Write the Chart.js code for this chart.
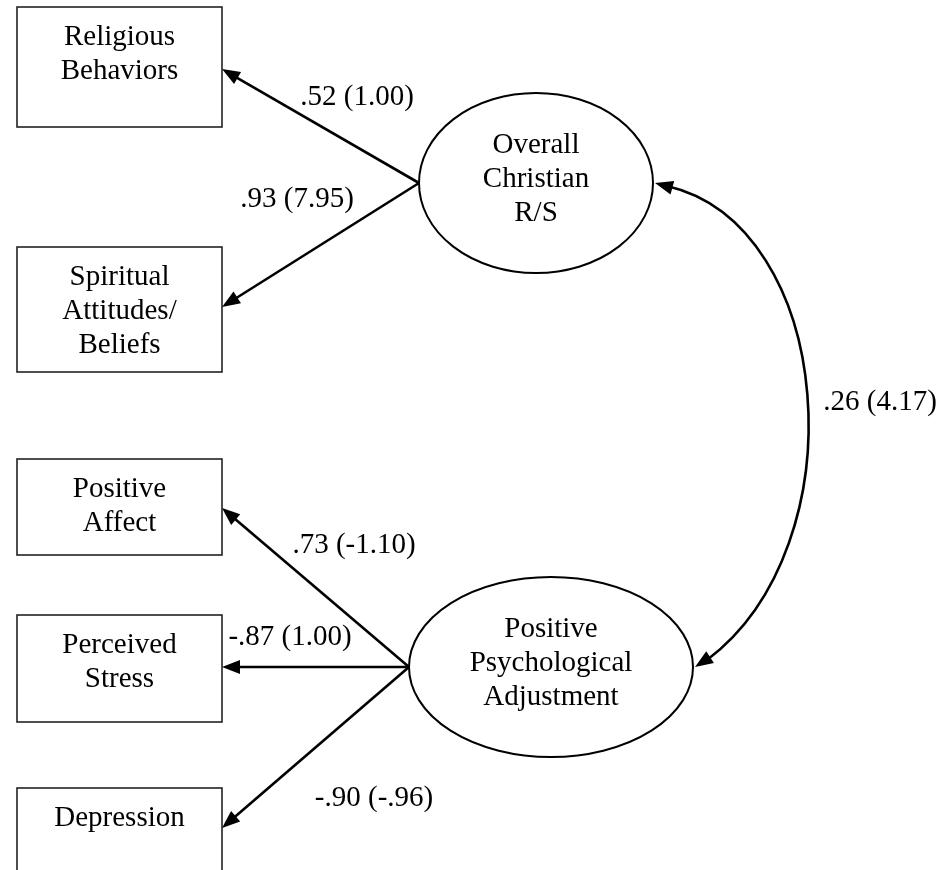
<!DOCTYPE html>
<html lang="en">
<head>
<meta charset="UTF-8">
<title>Path model</title>
<script src="https://cdn.jsdelivr.net/npm/chart.js"></script>
<style>
  body { margin: 0; background: #fff; }
  canvas { display: block; }
</style>
</head>
<body>
<canvas id="myChart" width="942" height="870"></canvas>
<script>
  // observed indicators, top to bottom, and the factor each one loads on
  const indicators = [['Religious', 'Behaviors'], ['Spiritual', 'Attitudes/', 'Beliefs'], ['Positive', 'Affect'], ['Perceived', 'Stress'], ['Depression']];
  const indicatorFactor = [0, 0, 1, 1, 1];
  const factors = [['Overall', 'Christian', 'R/S'], ['Positive', 'Psychological', 'Adjustment']];
  // standardized loading and (unstandardized estimate) for each path
  const stdLoadings = [0.52, 0.93, 0.73, -0.87, -0.90];
  const rawLoadings = [1.00, 7.95, -1.10, 1.00, -0.96];
  const factorCorr = 0.26;
  const factorCov = 4.17;

  // layout in picture pixels
  const boxX = 17, boxW = 205;
  const boxTop = [7, 247, 459, 615, 788];
  const boxH = [120, 125, 96, 107, 112];
  const boxAnchorY = [69, 307, 508, 667, 828];
  const ellipses = [{ cx: 536, cy: 183, rx: 117, ry: 90 }, { cx: 551, cy: 667, rx: 142, ry: 90 }];
  const labelPos = [[357, 97], [297, 199], [354, 545], [290, 637], [374, 798]];
  const corrLabelPos = [880, 402];
  const headLen = 18, headHalf = 7;
  const FONT = '29px "Liberation Serif", "Times New Roman", serif';

  const fmt = v => v.toFixed(2).replace(/^(-?)0\./, '$1.');

  // one straight line per loading, from the factor's left edge to the arrowhead base
  const pathSets = indicators.map((_, i) => {
    const e = ellipses[indicatorFactor[i]];
    const x0 = e.cx - e.rx, y0 = e.cy;
    const x1 = boxX + boxW, y1 = boxAnchorY[i];
    const len = Math.hypot(x1 - x0, y1 - y0);
    const ux = (x1 - x0) / len, uy = (y1 - y0) / len;
    return {
      data: [{ x: x0, y: y0 }, { x: x1 - ux * (headLen - 2), y: y1 - uy * (headLen - 2) }],
      showLine: true,
      borderColor: '#000',
      borderWidth: 2.6,
      pointRadius: 0
    };
  });

  function arrowHead(ctx, tx, ty, fx, fy) {
    const a = Math.atan2(ty - fy, tx - fx);
    ctx.beginPath();
    ctx.moveTo(tx, ty);
    ctx.lineTo(tx - headLen * Math.cos(a) + headHalf * Math.sin(a), ty - headLen * Math.sin(a) - headHalf * Math.cos(a));
    ctx.lineTo(tx - headLen * Math.cos(a) - headHalf * Math.sin(a), ty - headLen * Math.sin(a) + headHalf * Math.cos(a));
    ctx.closePath();
    ctx.fill();
  }

  function textLines(ctx, lines, x, y0) {
    lines.forEach((t, k) => ctx.fillText(t, x, y0 + k * 34));
  }

  const diagram = {
    id: 'diagram',
    afterDatasetsDraw(chart) {
      const ctx = chart.ctx;
      const X = v => chart.scales.x.getPixelForValue(v);
      const Y = v => chart.scales.y.getPixelForValue(v);
      ctx.save();
      ctx.fillStyle = '#000';
      ctx.font = FONT;
      ctx.textAlign = 'center';
      ctx.textBaseline = 'middle';

      // indicator boxes
      ctx.strokeStyle = '#222';
      ctx.lineWidth = 1.6;
      indicators.forEach((lines, i) => {
        ctx.strokeRect(X(boxX), Y(boxTop[i]), X(boxX + boxW) - X(boxX), Y(boxTop[i] + boxH[i]) - Y(boxTop[i]));
        textLines(ctx, lines, X(boxX + boxW / 2), Y(boxTop[i] + 30));
      });

      // latent factors
      ctx.strokeStyle = '#000';
      ctx.lineWidth = 2;
      ellipses.forEach((e, j) => {
        ctx.beginPath();
        ctx.ellipse(X(e.cx), Y(e.cy), X(e.cx + e.rx) - X(e.cx), Y(e.cy + e.ry) - Y(e.cy), 0, 0, Math.PI * 2);
        ctx.stroke();
        textLines(ctx, factors[j], X(e.cx), Y(e.cy - 38));
      });

      // arrowheads and loading labels
      indicators.forEach((_, i) => {
        const e = ellipses[indicatorFactor[i]];
        arrowHead(ctx, X(boxX + boxW), Y(boxAnchorY[i]), X(e.cx - e.rx), Y(e.cy));
        ctx.fillText(fmt(stdLoadings[i]) + ' (' + fmt(rawLoadings[i]) + ')', X(labelPos[i][0]), Y(labelPos[i][1]));
      });

      // curved double-headed arrow between factors
      const a = ellipses[0], b = ellipses[1];
      const p0 = [a.cx + a.rx + 2, a.cy], p3 = [b.cx + b.rx + 2, b.cy];
      const c1 = [835, 225], c2 = [860, 545];
      ctx.lineWidth = 2.6;
      ctx.beginPath();
      ctx.moveTo(X(p0[0] + 12), Y(p0[1] + 3));
      ctx.bezierCurveTo(X(c1[0]), Y(c1[1]), X(c2[0]), Y(c2[1]), X(p3[0] + 12), Y(p3[1] - 7));
      ctx.stroke();
      arrowHead(ctx, X(p0[0]), Y(p0[1]), X(p0[0] + 40), Y(p0[1] + 11));
      arrowHead(ctx, X(p3[0]), Y(p3[1]), X(p3[0] + 40), Y(p3[1] - 26));
      ctx.fillText(fmt(factorCorr) + ' (' + fmt(factorCov) + ')', X(corrLabelPos[0]), Y(corrLabelPos[1]));
      ctx.restore();
    }
  };

  const myChart = new Chart(document.getElementById('myChart'), {
    type: 'scatter',
    data: { datasets: pathSets },
    options: {
      responsive: false,
      animation: false,
      layout: { padding: 0 },
      plugins: { legend: { display: false }, tooltip: { enabled: false } },
      scales: {
        x: { type: 'linear', min: 0, max: 942, display: false },
        y: { type: 'linear', min: 0, max: 870, reverse: true, display: false }
      }
    },
    plugins: [diagram]
  });
</script>
</body>
</html>
